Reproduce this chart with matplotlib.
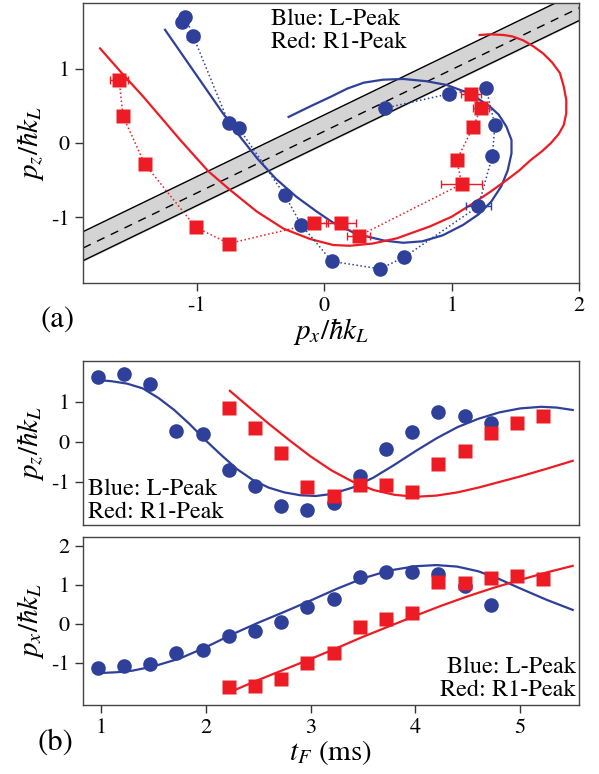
import numpy as np
import matplotlib.pyplot as plt

plt.rcParams['font.family'] = ['STIXGeneral', 'DejaVu Serif']
plt.rcParams['mathtext.fontset'] = 'stix'
plt.rcParams['axes.unicode_minus'] = False

BLUE = '#2E4099'
RED = '#ED1C24'

# measured peak positions vs time of flight
t_blue = [0.97, 1.22, 1.47, 1.72, 1.97, 2.22, 2.47, 2.72, 2.97, 3.22, 3.47, 3.72, 3.97, 4.22, 4.47, 4.72]
px_blue = [-1.12, -1.09, -1.03, -0.75, -0.67, -0.31, -0.18, 0.06, 0.44, 0.63, 1.21, 1.32, 1.34, 1.27, 0.98, 0.48]
pz_blue = [1.62, 1.69, 1.44, 0.27, 0.20, -0.70, -1.10, -1.59, -1.69, -1.53, -0.85, -0.17, 0.24, 0.74, 0.66, 0.47]
xerr_blue = [0, 0, 0.05, 0, 0.04, 0, 0, 0, 0, 0, 0.10, 0, 0, 0, 0.05, 0]

t_red = [2.22, 2.47, 2.72, 2.97, 3.22, 3.47, 3.72, 3.97, 4.22, 4.47, 4.72, 4.97, 5.22]
px_red = [-1.61, -1.58, -1.41, -1.01, -0.75, -0.08, 0.13, 0.27, 1.08, 1.04, 1.17, 1.23, 1.15]
pz_red = [0.84, 0.36, -0.28, -1.13, -1.35, -1.08, -1.08, -1.25, -0.55, -0.23, 0.22, 0.47, 0.66]
xerr_red = [0.07, 0.03, 0, 0, 0, 0.11, 0.12, 0.09, 0.16, 0.02, 0, 0.06, 0.08]
zerr_red = [0, 0, 0, 0, 0, 0, 0, 0, 0, 0.04, 0, 0, 0]

# model curves in momentum space (panel a)
fit_a_blue_px = [-1.25, -1.10, -0.95, -0.80, -0.65, -0.52, -0.38, -0.22, -0.06, 0.07, 0.25, 0.47, 0.62,
                 0.77, 0.93, 1.09, 1.21, 1.31, 1.39, 1.44, 1.47, 1.47, 1.43, 1.37, 1.30, 1.15, 0.96,
                 0.80, 0.62, 0.46, 0.31, 0.18, 0.05, -0.10, -0.28]
fit_a_blue_pz = [1.52, 1.15, 0.78, 0.41, 0.06, -0.22, -0.48, -0.72, -0.92, -1.07, -1.22, -1.31, -1.34,
                 -1.32, -1.24, -1.10, -0.96, -0.79, -0.58, -0.37, -0.14, 0.04, 0.22, 0.38, 0.49, 0.66, 0.78,
                 0.83, 0.86, 0.85, 0.81, 0.73, 0.62, 0.50, 0.35]
fit_a_red_px = [-1.76, -1.59, -1.42, -1.27, -1.13, -1.01, -0.91, -0.74, -0.53, -0.32, -0.11, 0.07, 0.20,
                0.38, 0.57, 0.83, 1.00, 1.15, 1.30, 1.43, 1.53, 1.62, 1.71, 1.78, 1.84, 1.88, 1.90,
                1.90, 1.88, 1.85, 1.79, 1.72, 1.64, 1.56, 1.48, 1.41, 1.30, 1.22]
fit_a_red_pz = [1.27, 0.94, 0.62, 0.32, 0.04, -0.19, -0.38, -0.63, -0.92, -1.15, -1.29, -1.37, -1.38,
                -1.35, -1.28, -1.12, -0.99, -0.83, -0.66, -0.50, -0.37, -0.23, -0.11, 0.00, 0.12, 0.24, 0.40,
                0.58, 0.76, 0.94, 1.08, 1.20, 1.30, 1.38, 1.43, 1.45, 1.46, 1.45]

# model curves vs time (panel b)
fit_pz_t_blue = [0.97, 1.10, 1.25, 1.40, 1.55, 1.70, 1.85, 2.00, 2.15, 2.30, 2.45, 2.60, 2.75, 2.90,
                 3.05, 3.20, 3.40, 3.60, 3.80, 4.00, 4.20, 4.40, 4.60, 4.80, 5.00, 5.20, 5.35, 5.50]
fit_pz_blue = [1.55, 1.52, 1.46, 1.34, 1.10, 0.80, 0.44, 0.04, -0.33, -0.68, -0.95, -1.14, -1.26, -1.33,
               -1.35, -1.30, -1.14, -0.89, -0.57, -0.23, 0.09, 0.37, 0.58, 0.74, 0.84, 0.88, 0.86, 0.80]
fit_pz_t_red = [2.23, 2.40, 2.60, 2.80, 3.00, 3.20, 3.40, 3.60, 3.80, 4.00, 4.20, 4.40, 4.60, 4.80,
                5.00, 5.25, 5.50]
fit_pz_red = [1.28, 0.90, 0.46, 0.04, -0.36, -0.71, -0.99, -1.20, -1.32, -1.37, -1.34, -1.26, -1.14, -1.00,
              -0.86, -0.67, -0.47]
fit_px_t_blue = [0.99, 1.15, 1.30, 1.50, 1.75, 2.00, 2.25, 2.50, 2.75, 3.00, 3.25, 3.50, 3.75, 4.00,
                 4.20, 4.40, 4.60, 4.80, 5.00, 5.25, 5.50]
fit_px_blue = [-1.26, -1.24, -1.20, -1.09, -0.89, -0.60, -0.27, 0.03, 0.31, 0.60, 0.90, 1.17, 1.37, 1.48,
               1.51, 1.47, 1.35, 1.15, 0.91, 0.62, 0.36]
fit_px_t_red = [2.23, 2.50, 2.75, 3.00, 3.25, 3.50, 3.75, 4.00, 4.25, 4.50, 4.75, 5.00, 5.25, 5.50]
fit_px_red = [-1.75, -1.44, -1.17, -0.90, -0.62, -0.33, -0.06, 0.21, 0.47, 0.71, 0.93, 1.13, 1.32, 1.49]

# shaded band in panel a
band_slope = 0.828
band_x0 = -0.19
band_up = 0.22
band_low = -0.17

legend_text = 'Blue: L-Peak\nRed: R1-Peak'
W, H = 599, 774

fig = plt.figure(figsize=(W / 100, H / 100), dpi=100)


def box(l, t, r, b):
    return [l / W, 1 - b / H, (r - l) / W, (b - t) / H]


def style(ax):
    for s in ax.spines.values():
        s.set_color('#444444')
        s.set_linewidth(1.0)
    ax.tick_params(direction='out', length=6, width=1, labelsize=16, color='#333333')


# ---- panel (a)
ax1 = fig.add_axes(box(83, 3, 579, 283))
style(ax1)
bx = np.array([-2.0, 2.1])
center = band_slope * (bx - band_x0)
ax1.fill_between(bx, center + band_low, center + band_up, color='#d4d4d4', zorder=1)
ax1.plot(bx, center + band_up, color='black', lw=1, zorder=2)
ax1.plot(bx, center + band_low, color='black', lw=1, zorder=2)
ax1.plot(bx, center, color='black', lw=1, dashes=(6, 5), zorder=2)

ax1.plot(fit_a_blue_px, fit_a_blue_pz, color=BLUE, lw=1.6, zorder=3)
ax1.plot(fit_a_red_px, fit_a_red_pz, color=RED, lw=1.6, zorder=3)

ax1.plot(px_blue, pz_blue, ls=':', color=BLUE, lw=1.1, zorder=4)
ax1.plot(px_red, pz_red, ls=':', color=RED, lw=1.1, zorder=4)
ax1.errorbar(px_blue, pz_blue, xerr=xerr_blue, fmt='o', color=BLUE, ms=10.5, mec='none',
             elinewidth=1, capsize=3, zorder=5)
ax1.errorbar(px_red, pz_red, xerr=xerr_red, yerr=zerr_red, fmt='s', color=RED, ms=10, mec='none',
             elinewidth=1, capsize=3, zorder=5)

ax1.set_xlim(-1.894, 2.0)
ax1.set_ylim(-1.88, 1.88)
ax1.set_xticks([-1, 0, 1, 2])
ax1.set_yticks([-1, 0, 1])
ax1.set_xlabel(r'$p_x/\hbar k_L$', fontsize=21, labelpad=0)
ax1.set_ylabel(r'$p_z/\hbar k_L$', fontsize=21, labelpad=4)
ax1.text(0.38, 0.98, legend_text, transform=ax1.transAxes, fontsize=17.5,
         va='top', ha='left', linespacing=1.1)
fig.text(58 / W, 1 - 320 / H, '(a)', fontsize=22, ha='center', va='center')

# ---- panel (b), pz vs time
ax2 = fig.add_axes(box(83, 361, 579, 525))
style(ax2)
ax2.plot(fit_pz_t_blue, fit_pz_blue, color=BLUE, lw=1.6)
ax2.plot(fit_pz_t_red, fit_pz_red, color=RED, lw=1.6)
ax2.plot(t_blue, pz_blue, 'o', color=BLUE, ms=10.5, mec='none')
ax2.plot(t_red, pz_red, 's', color=RED, ms=10, mec='none')
ax2.set_xlim(0.83, 5.56)
ax2.set_ylim(-2.075, 2.025)
ax2.set_xticks([])
ax2.set_yticks([-1, 0, 1])
ax2.set_ylabel(r'$p_z/\hbar k_L$', fontsize=21, labelpad=4)
ax2.text(0.01, 0.015, legend_text, transform=ax2.transAxes, fontsize=17.5,
         va='bottom', ha='left', linespacing=1.1)

# ---- panel (b), px vs time
ax3 = fig.add_axes(box(83, 537, 579, 705))
style(ax3)
ax3.plot(fit_px_t_blue, fit_px_blue, color=BLUE, lw=1.6)
ax3.plot(fit_px_t_red, fit_px_red, color=RED, lw=1.6)
ax3.plot(t_blue, px_blue, 'o', color=BLUE, ms=10.5, mec='none')
ax3.plot(t_red, px_red, 's', color=RED, ms=10, mec='none')
ax3.set_xlim(0.83, 5.56)
ax3.set_ylim(-2.08, 2.23)
ax3.set_xticks([1, 2, 3, 4, 5])
ax3.set_yticks([-1, 0, 1, 2])
ax3.set_xlabel(r'$t_F$ (ms)', fontsize=21, labelpad=0)
ax3.set_ylabel(r'$p_x/\hbar k_L$', fontsize=21, labelpad=4)
ax3.text(0.993, 0.025, legend_text, transform=ax3.transAxes, fontsize=17.5,
         va='bottom', ha='right', linespacing=1.1)
fig.text(55 / W, 1 - 743 / H, '(b)', fontsize=22, ha='center', va='center')

fig.savefig('out.png', dpi=100)
